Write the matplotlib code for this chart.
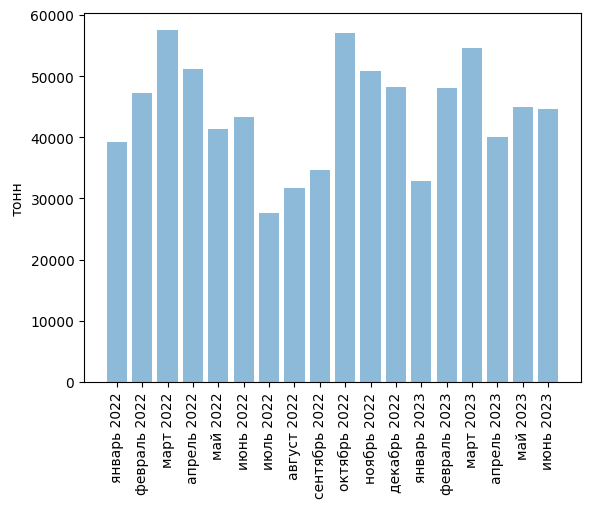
import matplotlib
matplotlib.use("Agg")
import matplotlib.pyplot as plt

months = ["январь 2022", "февраль 2022", "март 2022", "апрель 2022", "май 2022",
          "июнь 2022", "июль 2022", "август 2022", "сентябрь 2022", "октябрь 2022",
          "ноябрь 2022", "декабрь 2022", "январь 2023", "февраль 2023", "март 2023",
          "апрель 2023", "май 2023", "июнь 2023"]
values = [39200, 47200, 57500, 51100, 41300, 43300, 27600, 31700, 34600, 57100,
          50800, 48200, 32800, 48000, 54500, 40000, 44900, 44600]

fig = plt.figure(figsize=(5.89, 5.10), dpi=100)
ax = fig.add_axes([84/589, 1-383/510, (581-84)/589, (383-14)/510])
ax.bar(range(len(months)), values, alpha=0.5)
ax.set_xticks(range(len(months)))
ax.set_xticklabels(months, rotation=90)
ax.set_ylabel("тонн")
ax.set_ylim(0, 60300)
fig.savefig("out.png", dpi=100)
